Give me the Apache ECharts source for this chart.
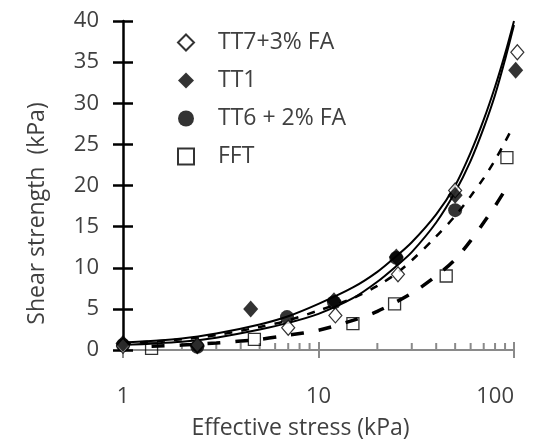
<!DOCTYPE html>
<html>
<head>
<meta charset="utf-8">
<script src="https://cdn.jsdelivr.net/npm/echarts@6/dist/echarts.min.js"></script>
<style>
  html, body { margin: 0; padding: 0; background: #fff; }
  #chart { width: 540px; height: 446px; }
</style>
</head>
<body>
<div id="chart"></div>
<script>
// Legend order
const seriesNames = ['TT7+3% FA', 'TT1', 'TT6 + 2% FA', 'FFT'];

// Measured points: effective stress (kPa) and shear strength (kPa)
const tt7Stress   = [1, 2.4, 7, 12.2, 25.5, 50, 104];
const tt7Strength = [0.5, 0.6, 2.7, 4.2, 9.2, 19.4, 36.2];
const tt1Stress   = [1, 2.4, 4.5, 12, 25, 50, 102];
const tt1Strength = [0.8, 0.5, 5.0, 6.0, 11.3, 18.8, 34.0];
const tt6Stress   = [1, 2.4, 6.9, 12, 25, 50];
const tt6Strength = [0.6, 0.4, 4.0, 5.8, 11.2, 17.0];
const fftStress   = [1.4, 4.7, 15, 24.5, 45, 92];
const fftStrength = [0.2, 1.3, 3.2, 5.6, 9.0, 23.4];

// Trend curves
const fitStress = [1, 2, 3, 5, 7, 10, 15, 20, 25, 30, 40, 50, 60, 70, 80, 90, 100];
const tt1FitStrength = [0.9, 1.4, 2.0, 3.1, 4.1, 5.6, 7.6, 9.5, 11.4, 13.1, 16.5, 20.0, 24.0, 28.0, 32.0, 36.0, 40.0];
const tt7FitStrength = [0.6, 1.0, 1.5, 2.5, 3.3, 4.4, 6.3, 8.3, 10.2, 11.9, 15.5, 19.2, 23.0, 27.0, 31.0, 35.3, 39.5];
const tt6FitStress   = [1, 2, 3, 5, 7, 10, 15, 20, 25, 30, 40, 50, 60, 70, 80, 90, 98];
const tt6FitStrength = [0.8, 1.3, 1.8, 2.8, 3.6, 4.8, 6.3, 7.8, 9.3, 10.9, 13.8, 16.3, 18.7, 20.9, 23.1, 25.3, 27.0];
const fftFitStress   = [1.4, 2, 3, 5, 7, 10, 15, 20, 30, 40, 50, 60, 70, 80, 92];
const fftFitStrength = [0.45, 0.6, 0.85, 1.3, 1.8, 2.4, 3.6, 4.7, 6.9, 9.0, 11.0, 13.3, 15.5, 17.5, 19.8];

// Minor ticks of the logarithmic stress axis
const xMinorTicks = [2, 3, 4, 5, 6, 7, 8, 9, 20, 30, 40, 50, 60, 70, 80, 90];

const pairs = (xs, ys) => xs.map((x, i) => [x, ys[i]]);

const FONT = 'Open Sans';
const TEXT = '#404040';
const AXIS_GRAY = '#8a8a8a';

const chart = echarts.init(document.getElementById('chart'), null, { renderer: 'canvas' });

function trend(name, xs, ys, style) {
  return {
    name: name, type: 'line', data: pairs(xs, ys),
    symbol: 'none', showSymbol: false, smooth: 0.3, silent: true,
    lineStyle: Object.assign({ color: '#000', width: 2 }, style),
    z: 1
  };
}

const option = {
  animation: false,
  backgroundColor: '#fff',
  grid: { left: 123, right: 26, top: 21, bottom: 96 },
  legend: {
    data: seriesNames,
    orient: 'vertical',
    left: 172, top: 26,
    itemWidth: 16, itemHeight: 16, itemGap: 15,
    selectedMode: false,
    textStyle: { fontFamily: FONT, fontSize: 23, color: TEXT, padding: [0, 0, 0, 19] }
  },
  xAxis: [
    {
      type: 'log', logBase: 10, min: 1, max: 100,
      axisLine: { show: true, lineStyle: { color: AXIS_GRAY, width: 2 } },
      axisTick: { show: true, length: 8, lineStyle: { color: AXIS_GRAY, width: 2 } },
      axisLabel: { fontFamily: FONT, fontSize: 22, color: TEXT, margin: 36, alignMaxLabel: 'right' },
      splitLine: { show: false },
      minorTick: { show: false },
      name: 'Effective stress (kPa)', nameLocation: 'middle', nameGap: 67,
      nameTextStyle: { fontFamily: FONT, fontSize: 23, color: TEXT, padding: [0, 36, 0, 0] }
    },
    {
      type: 'log', logBase: 10, min: 1, max: 100, position: 'bottom',
      axisLine: { show: false },
      axisTick: { show: true, inside: true, length: 8, lineStyle: { color: AXIS_GRAY, width: 2 } },
      axisLabel: { show: false },
      splitLine: { show: false }
    }
  ],
  yAxis: [
    {
      type: 'value', min: 0, max: 40, interval: 5,
      axisLine: { show: true, lineStyle: { color: '#000', width: 2.5 } },
      axisTick: { show: true, length: 10, lineStyle: { color: '#000', width: 2.5 } },
      axisLabel: { fontFamily: FONT, fontSize: 22, color: TEXT, margin: 24 },
      splitLine: { show: false },
      name: 'Shear strength  (kPa)', nameLocation: 'middle', nameGap: 74, nameRotate: 90,
      nameTextStyle: { fontFamily: FONT, fontSize: 23, color: TEXT, padding: [0, 56, 0, 0] }
    },
    {
      type: 'value', min: 0, max: 40, interval: 5, position: 'left',
      axisLine: { show: false },
      axisTick: { show: true, inside: true, length: 10, lineStyle: { color: '#000', width: 2.5 } },
      axisLabel: { show: false },
      splitLine: { show: false }
    }
  ],
  series: [
    trend('FFT trend', fftFitStress, fftFitStrength, { width: 3.5, type: [13, 15] }),
    trend('TT6 trend', tt6FitStress, tt6FitStrength, { width: 2.5, type: [8, 9] }),
    trend('TT7 trend', fitStress, tt7FitStrength, { width: 2 }),
    trend('TT1 trend', fitStress, tt1FitStrength, { width: 2 }),
    {
      name: 'FFT', type: 'scatter', data: pairs(fftStress, fftStrength), clip: false,
      symbol: 'rect', symbolSize: 12,
      itemStyle: { color: 'rgba(255,255,255,0)', borderColor: '#000', borderWidth: 1.3 }, z: 3
    },
    {
      name: 'TT6 + 2% FA', type: 'scatter', data: pairs(tt6Stress, tt6Strength), clip: false,
      symbol: 'circle', symbolSize: 14,
      itemStyle: { color: '#000' }, z: 3
    },
    {
      name: 'TT7+3% FA', type: 'scatter', data: pairs(tt7Stress, tt7Strength), clip: false,
      symbol: 'diamond', symbolSize: [13, 15],
      itemStyle: { color: '#fff', borderColor: '#000', borderWidth: 1.2 }, z: 3
    },
    {
      name: 'TT1', type: 'scatter', data: pairs(tt1Stress, tt1Strength), clip: false,
      symbol: 'diamond', symbolSize: [15, 17],
      itemStyle: { color: '#000' }, z: 3
    }
  ]
};

chart.setOption(option);

// Minor ticks stand up from the stress axis line
const axisY = chart.convertToPixel({ yAxisIndex: 0 }, 0);
chart.setOption({
  graphic: xMinorTicks.map(v => {
    const x = chart.convertToPixel({ xAxisIndex: 0 }, v);
    return {
      type: 'line', silent: true, z: 0,
      shape: { x1: x, y1: axisY, x2: x, y2: axisY - 7 },
      style: { stroke: AXIS_GRAY, lineWidth: 2 }
    };
  })
});
</script>
</body>
</html>
